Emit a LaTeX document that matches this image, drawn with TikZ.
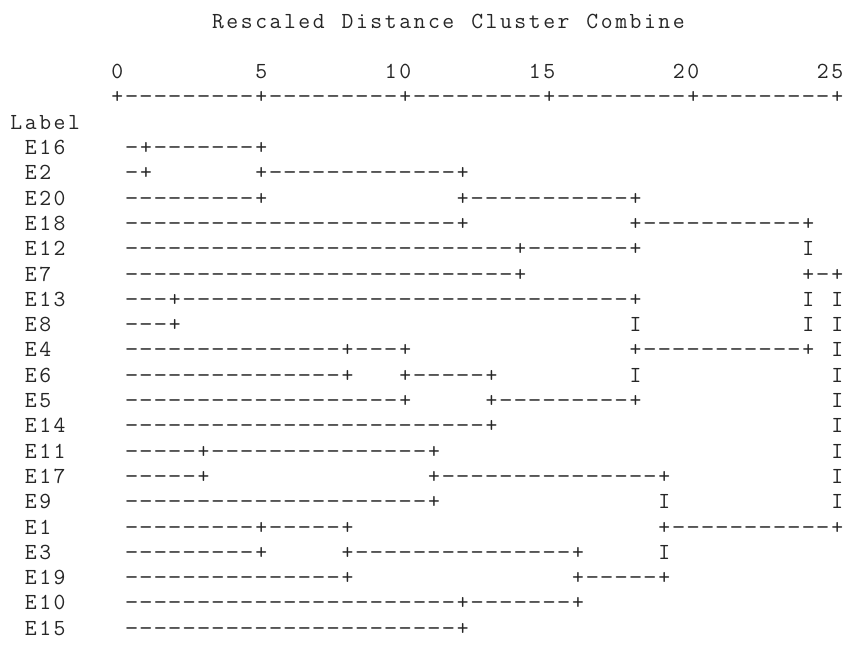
\documentclass[tikz,border=0pt]{standalone}
\usepackage{fontspec}
\newlength\cellw
\setlength\cellw{14.4pt}
\ExplSyntaxOn
\NewDocumentCommand\Txt{m}{\str_map_inline:nn {#1} {\makebox[\cellw][c]{##1}}}
\NewDocumentCommand\Dh{m}{\prg_replicate:nn {#1} {\makebox[\cellw][c]{\scalebox{1.15}[1]{-}}}}
\ExplSyntaxOff
\newcommand\Bk[1]{\hspace*{#1\cellw}}
\newcommand\Pl{\makebox[\cellw][c]{+}}
\newcommand\Iv{\makebox[\cellw][c]{I}}
\begin{document}
\begin{tikzpicture}[x=14.4pt,y=-25.3pt,
  every node/.style={inner sep=0pt, anchor=base west, text=black!85,
    font=\ttfamily\fontsize{23pt}{26pt}\selectfont\addfontfeature{FakeStretch=1.15}}]
\path[use as bounding box, fill=white] (0pt,0pt) rectangle (845pt,-646pt);
\begin{scope}[shift={(109.8pt,-154.5pt)}]
\node (title) at (7,-5) {\Txt{Rescaled Distance Cluster Combine}};
\node (scale) at (0,-3) {\Txt{0}\Bk{9}\Txt{5}\Bk{8}\Txt{10}\Bk{8}\Txt{15}\Bk{8}\Txt{20}\Bk{8}\Txt{25}};
\node (axis) at (0,-2) {\Pl\Dh{9}\Pl\Dh{9}\Pl\Dh{9}\Pl\Dh{9}\Pl\Dh{9}\Pl};
\node (label) at (-7,-1) {\Txt{Label}};
% case labels
\node (lE16) at (-6,0) {\Txt{E16}};
\node (lE2) at (-6,1) {\Txt{E2}};
\node (lE20) at (-6,2) {\Txt{E20}};
\node (lE18) at (-6,3) {\Txt{E18}};
\node (lE12) at (-6,4) {\Txt{E12}};
\node (lE7) at (-6,5) {\Txt{E7}};
\node (lE13) at (-6,6) {\Txt{E13}};
\node (lE8) at (-6,7) {\Txt{E8}};
\node (lE4) at (-6,8) {\Txt{E4}};
\node (lE6) at (-6,9) {\Txt{E6}};
\node (lE5) at (-6,10) {\Txt{E5}};
\node (lE14) at (-6,11) {\Txt{E14}};
\node (lE11) at (-6,12) {\Txt{E11}};
\node (lE17) at (-6,13) {\Txt{E17}};
\node (lE9) at (-6,14) {\Txt{E9}};
\node (lE1) at (-6,15) {\Txt{E1}};
\node (lE3) at (-6,16) {\Txt{E3}};
\node (lE19) at (-6,17) {\Txt{E19}};
\node (lE10) at (-6,18) {\Txt{E10}};
\node (lE15) at (-6,19) {\Txt{E15}};
% dendrogram rows
\node (rE16) at (1,0) {\Dh{1}\Pl\Dh{7}\Pl};
\node (rE2) at (1,1) {\Dh{1}\Pl\Bk{7}\Pl\Dh{13}\Pl};
\node (rE20) at (1,2) {\Dh{9}\Pl\Bk{13}\Pl\Dh{11}\Pl};
\node (rE18) at (1,3) {\Dh{23}\Pl\Bk{11}\Pl\Dh{11}\Pl};
\node (rE12) at (1,4) {\Dh{27}\Pl\Dh{7}\Pl\Bk{11}\Iv};
\node (rE7) at (1,5) {\Dh{27}\Pl\Bk{19}\Pl\Dh{1}\Pl};
\node (rE13) at (1,6) {\Dh{3}\Pl\Dh{31}\Pl\Bk{11}\Iv\Bk{1}\Iv};
\node (rE8) at (1,7) {\Dh{3}\Pl\Bk{31}\Iv\Bk{11}\Iv\Bk{1}\Iv};
\node (rE4) at (1,8) {\Dh{15}\Pl\Dh{3}\Pl\Bk{15}\Pl\Dh{11}\Pl\Bk{1}\Iv};
\node (rE6) at (1,9) {\Dh{15}\Pl\Bk{3}\Pl\Dh{5}\Pl\Bk{9}\Iv\Bk{13}\Iv};
\node (rE5) at (1,10) {\Dh{19}\Pl\Bk{5}\Pl\Dh{9}\Pl\Bk{13}\Iv};
\node (rE14) at (1,11) {\Dh{25}\Pl\Bk{23}\Iv};
\node (rE11) at (1,12) {\Dh{5}\Pl\Dh{15}\Pl\Bk{27}\Iv};
\node (rE17) at (1,13) {\Dh{5}\Pl\Bk{15}\Pl\Dh{15}\Pl\Bk{11}\Iv};
\node (rE9) at (1,14) {\Dh{21}\Pl\Bk{15}\Iv\Bk{11}\Iv};
\node (rE1) at (1,15) {\Dh{9}\Pl\Dh{5}\Pl\Bk{21}\Pl\Dh{11}\Pl};
\node (rE3) at (1,16) {\Dh{9}\Pl\Bk{5}\Pl\Dh{15}\Pl\Bk{5}\Iv};
\node (rE19) at (1,17) {\Dh{15}\Pl\Bk{15}\Pl\Dh{5}\Pl};
\node (rE10) at (1,18) {\Dh{23}\Pl\Dh{7}\Pl};
\node (rE15) at (1,19) {\Dh{23}\Pl};
\end{scope}
\end{tikzpicture}
\end{document}
